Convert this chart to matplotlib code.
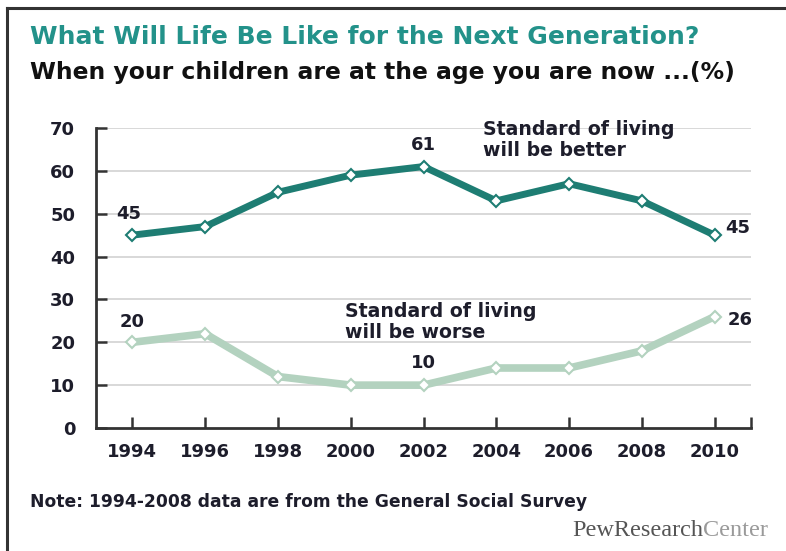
import matplotlib
matplotlib.use("Agg")
import matplotlib.pyplot as plt
from matplotlib.lines import Line2D

years = [1994, 1996, 1998, 2000, 2002, 2004, 2006, 2008, 2010]
better = [45, 47, 55, 59, 61, 53, 57, 53, 45]
worse = [20, 22, 12, 10, 10, 14, 14, 18, 26]
y_ticks = [0, 10, 20, 30, 40, 50, 60, 70]

title = "What Will Life Be Like for the Next Generation?"
subtitle = "When your children are at the age you are now ...(%)"
note = "Note: 1994-2008 data are from the General Social Survey"
better_label = "Standard of living\nwill be better"
worse_label = "Standard of living\nwill be worse"

TEAL = "#1e7d73"
SAGE = "#b3d2bf"
INK = "#1d1d2b"

plt.rcParams["font.family"] = ["DejaVu Sans"]

fig = plt.figure(figsize=(7.86, 5.51), dpi=100)
W, H = 786, 551

def fx(px):
    return px / W

def fy(py):
    return 1 - py / H

# outer frame (left and top edges)
fig.add_artist(Line2D([fx(7), fx(7)], [0, fy(8)], color="#333333", lw=2.2,
                      transform=fig.transFigure))
fig.add_artist(Line2D([fx(7), 1.0], [fy(8), fy(8)], color="#333333", lw=2.2,
                      transform=fig.transFigure))

ax = fig.add_axes([fx(96), fy(428), fx(751) - fx(96), fy(128) - fy(428)])
ax.set_xlim(1993, 2011)
ax.set_ylim(0, 70)

for v in y_ticks[1:]:
    ax.axhline(v, xmin=0.014, color="#d6d6d6", lw=1.3, zorder=1)

ax.plot(years, worse, color=SAGE, lw=5.5, marker="D", ms=6.5, mfc="white",
        mec=SAGE, mew=1.5, zorder=3, solid_joinstyle="miter")
ax.plot(years, better, color=TEAL, lw=5.0, marker="D", ms=6.5, mfc="white",
        mec=TEAL, mew=1.5, zorder=4, solid_joinstyle="miter")

for s in ["top", "right"]:
    ax.spines[s].set_visible(False)
for s in ["left", "bottom"]:
    ax.spines[s].set_color("#333333")
    ax.spines[s].set_linewidth(2.0)

ax.set_yticks(y_ticks)
ax.set_yticklabels([str(v) for v in y_ticks])
ax.set_xticks(years)
ax.set_xticklabels([str(y) for y in years])
ax.set_xticks([2011], minor=True)
ax.tick_params(axis="both", direction="in", length=8, width=1.8, color="#333333",
               labelsize=13, labelcolor=INK)
ax.tick_params(axis="x", which="minor", direction="in", length=8, width=1.8,
               color="#333333")
ax.tick_params(axis="y", pad=15)
ax.tick_params(axis="x", pad=11)
for lab in ax.get_xticklabels() + ax.get_yticklabels():
    lab.set_fontweight("bold")

lab_kw = dict(fontsize=13, fontweight="bold", color=INK)
ax.text(years[0] - 0.1, better[0] + 5.0, str(better[0]), ha="center", va="center", **lab_kw)
ax.text(years[4], better[4] + 5.0, str(better[4]), ha="center", va="center", **lab_kw)
ax.text(years[-1] + 0.3, better[-1] + 1.6, str(better[-1]), ha="left", va="center", **lab_kw)
ax.text(years[0], worse[0] + 4.7, str(worse[0]), ha="center", va="center", **lab_kw)
ax.text(years[4], worse[4] + 5.2, str(worse[4]), ha="center", va="center", **lab_kw)
ax.text(years[-1] + 0.35, worse[-1] - 0.8, str(worse[-1]), ha="left", va="center", **lab_kw)

ax.text(2003.63, 67.2, better_label, ha="left", va="center", fontsize=13.6,
        fontweight="bold", color=INK, linespacing=1.15)
ax.text(1999.84, 24.7, worse_label, ha="left", va="center", fontsize=13.6,
        fontweight="bold", color=INK, linespacing=1.15)

fig.text(fx(30), fy(37), title, ha="left", va="center", fontsize=18,
         fontweight="bold", color="#23928a")
fig.text(fx(30), fy(72), subtitle, ha="left", va="center", fontsize=16.9,
         fontweight="bold", color="#111111")
fig.text(fx(30), fy(502), note, ha="left", va="center", fontsize=12.3,
         fontweight="bold", color=INK)

t1 = fig.text(fx(572), fy(531), "PewResearch", ha="left", va="center",
              fontsize=17.5, family="Liberation Serif", color="#555555")
fig.canvas.draw()
bb = t1.get_window_extent()
fig.text(bb.x1 / W, fy(531), "Center", ha="left", va="center",
         fontsize=17.5, family="Liberation Serif", color="#9a9a9a")

fig.savefig("out.png", dpi=100)
